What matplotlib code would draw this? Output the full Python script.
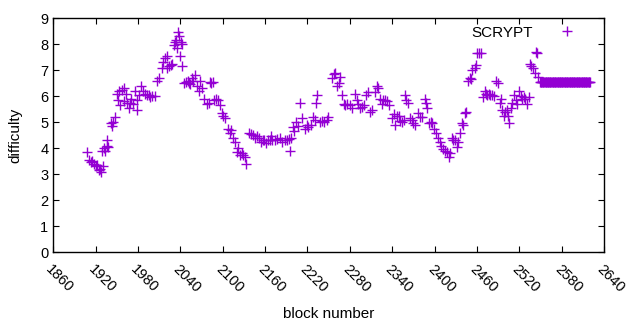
import matplotlib
matplotlib.use("Agg")
import matplotlib.pyplot as plt

# block numbers and difficulty (one row = same points)
blocks = [
    1908, 1911, 1914, 1915, 1918, 1921, 1922, 1925, 1927, 1928,
    1931, 1929, 1932, 1934, 1936, 1936, 1938, 1942, 1944, 1945,
    1948, 1951, 1952, 1953, 1955, 1958, 1961, 1961, 1963, 1965,
    1968, 1969, 1970, 1973, 1976, 1979, 1979, 1982, 1985, 1987,
    1990, 1993, 1996, 1997, 2000, 2004, 2007, 2010, 2014, 2016,
    2019, 2021, 2021, 2024, 2027, 2028, 2031, 2033, 2034, 2036,
    2037, 2038, 2040, 2041, 2043, 2043, 2045, 2048, 2051, 2053,
    2054, 2057, 2058, 2061, 2064, 2067, 2068, 2071, 2074, 2078,
    2081, 2082, 2084, 2086, 2088, 2091, 2094, 2096, 2099, 2101,
    2103, 2108, 2111, 2112, 2115, 2118, 2120, 2122, 2125, 2128,
    2129, 2132, 2133, 2137, 2140, 2143, 2146, 2149, 2152, 2154,
    2157, 2159, 2162, 2164, 2167, 2168, 2170, 2174, 2177, 2181,
    2184, 2188, 2191, 2194, 2195, 2197, 2200, 2201, 2204, 2207,
    2210, 2212, 2217, 2220, 2221, 2225, 2228, 2231, 2232, 2234,
    2238, 2241, 2244, 2248, 2249, 2255, 2258, 2259, 2262, 2265,
    2266, 2269, 2272, 2273, 2276, 2280, 2283, 2288, 2290, 2292,
    2295, 2297, 2300, 2303, 2306, 2309, 2312, 2316, 2319, 2320,
    2323, 2326, 2327, 2330, 2333, 2336, 2340, 2343, 2344, 2347,
    2350, 2351, 2354, 2357, 2358, 2360, 2363, 2365, 2368, 2370,
    2372, 2377, 2380, 2382, 2387, 2388, 2389, 2392, 2395, 2397,
    2399, 2402, 2405, 2408, 2409, 2412, 2415, 2418, 2421, 2422,
    2425, 2426, 2429, 2432, 2433, 2436, 2439, 2440, 2443, 2445,
    2447, 2450, 2452, 2453, 2457, 2459, 2460, 2463, 2466, 2469,
    2472, 2473, 2474, 2477, 2479, 2481, 2484, 2487, 2490, 2493,
    2494, 2496, 2498, 2500, 2503, 2504, 2506, 2508, 2510, 2513,
    2515, 2517, 2520, 2522, 2524, 2527, 2528, 2531, 2533, 2535,
    2537, 2539, 2542, 2544, 2545, 2547,
]
difficulty = [
    3.85, 3.55, 3.45, 3.5, 3.4, 3.3, 3.35, 3.15, 3.2, 3.1,
    3.3, 3.9, 4.0, 3.9, 4.1, 4.3, 4.05, 4.95, 4.85, 5.0,
    5.2, 6.1, 5.85, 6.2, 5.65, 6.25, 6.3, 5.8, 6.1, 5.75,
    5.55, 5.75, 5.9, 5.7, 6.2, 5.85, 5.45, 6.05, 6.4, 6.2,
    6.1, 6.05, 6.05, 5.95, 6.0, 6.0, 6.6, 6.7, 7.1, 7.3,
    7.45, 7.55, 7.1, 7.15, 7.2, 7.25, 7.95, 8.1, 8.15, 7.85,
    8.45, 8.3, 7.55, 8.1, 8.0, 7.15, 6.5, 6.55, 6.6, 6.5,
    6.45, 6.7, 6.6, 6.8, 6.4, 6.2, 6.6, 6.3, 5.9, 5.7,
    5.75, 6.55, 6.5, 6.55, 5.85, 5.9, 5.85, 5.65, 5.35, 5.25,
    5.15, 4.75, 4.6, 4.7, 4.4, 4.25, 3.85, 4.0, 3.75, 3.8,
    3.75, 3.65, 3.4, 4.6, 4.55, 4.5, 4.4, 4.45, 4.4, 4.25,
    4.3, 4.3, 4.2, 4.3, 4.3, 4.45, 4.3, 4.3, 4.35, 4.4,
    4.25, 4.3, 4.3, 4.35, 3.9, 4.4, 4.8, 4.65, 5.0, 4.85,
    5.75, 5.15, 4.75, 4.9, 4.8, 4.9, 5.2, 5.1, 5.75, 6.05,
    5.0, 5.05, 5.0, 5.1, 5.2, 6.7, 6.85, 6.9, 6.4, 6.5,
    6.75, 6.05, 5.7, 5.65, 5.7, 5.65, 5.55, 6.1, 5.85, 5.7,
    5.55, 5.6, 5.65, 6.05, 6.15, 5.4, 5.45, 6.15, 6.4, 6.3,
    5.9, 5.7, 5.85, 5.85, 5.8, 5.65, 5.15, 5.3, 4.9, 5.25,
    5.25, 5.05, 5.0, 5.1, 6.05, 5.85, 5.75, 5.15, 5.1, 4.95,
    4.9, 5.35, 5.2, 5.2, 5.9, 5.75, 5.55, 4.95, 5.0, 4.95,
    4.75, 4.6, 4.4, 4.25, 4.1, 3.95, 3.9, 3.85, 3.65, 3.8,
    4.4, 4.3, 4.3, 4.05, 4.25, 4.6, 4.95, 4.9, 5.35, 5.4,
    6.6, 6.7, 6.65, 7.0, 7.1, 7.2, 7.65, 7.65, 7.65, 5.95,
    6.2, 6.1, 6.05, 6.1, 6.05, 6.05, 6.0, 6.6, 6.5, 5.75,
    5.9, 5.45, 5.25, 5.4, 5.45, 5.25, 4.95, 5.55, 5.75, 6.05,
    5.85, 5.7, 6.2, 6.0, 5.9, 5.95, 5.9, 5.7, 5.95, 7.25,
    7.15, 7.1, 6.9, 7.7, 7.65, 6.75,
]
# last stretch sits flat at one value
flat_blocks = list(range(2549, 2621))
flat_difficulty = [6.55] * len(flat_blocks)

xticks = list(range(1860, 2641, 60))
yticks = list(range(0, 10))

plt.rcParams['font.family'] = ['Liberation Sans', 'DejaVu Sans']

fig = plt.figure(figsize=(6.4, 3.3), dpi=100)
ax = fig.add_axes([0.083, 0.236, 0.861, 0.709])

color = '#9400d3'
ax.plot(blocks + flat_blocks, difficulty + flat_difficulty, '+',
        color=color, markersize=6.5, markeredgewidth=1.0, label='SCRYPT')

ax.set_xlim(1860, 2640)
ax.set_ylim(0, 9)
ax.set_xticks(xticks)
ax.set_xticklabels([str(t) for t in xticks], rotation=-45, ha='left', va='top',
                   rotation_mode='anchor')
ax.set_yticks(yticks)
ax.tick_params(direction='in', top=True, right=True, length=4, labelsize=10.5,
               width=0.8)
ax.tick_params(axis='x', pad=7)
for s in ax.spines.values():
    s.set_linewidth(1)

ax.set_xlabel('block number', fontsize=11, labelpad=9)
ax.set_ylabel('difficulty', fontsize=11, labelpad=13)

ax.legend(loc='upper right', bbox_to_anchor=(0.980, 1.013), frameon=False,
          markerfirst=False, fontsize=11, handlelength=2, borderaxespad=0.3,
          handletextpad=1.25)

plt.savefig('out.png', dpi=100)
